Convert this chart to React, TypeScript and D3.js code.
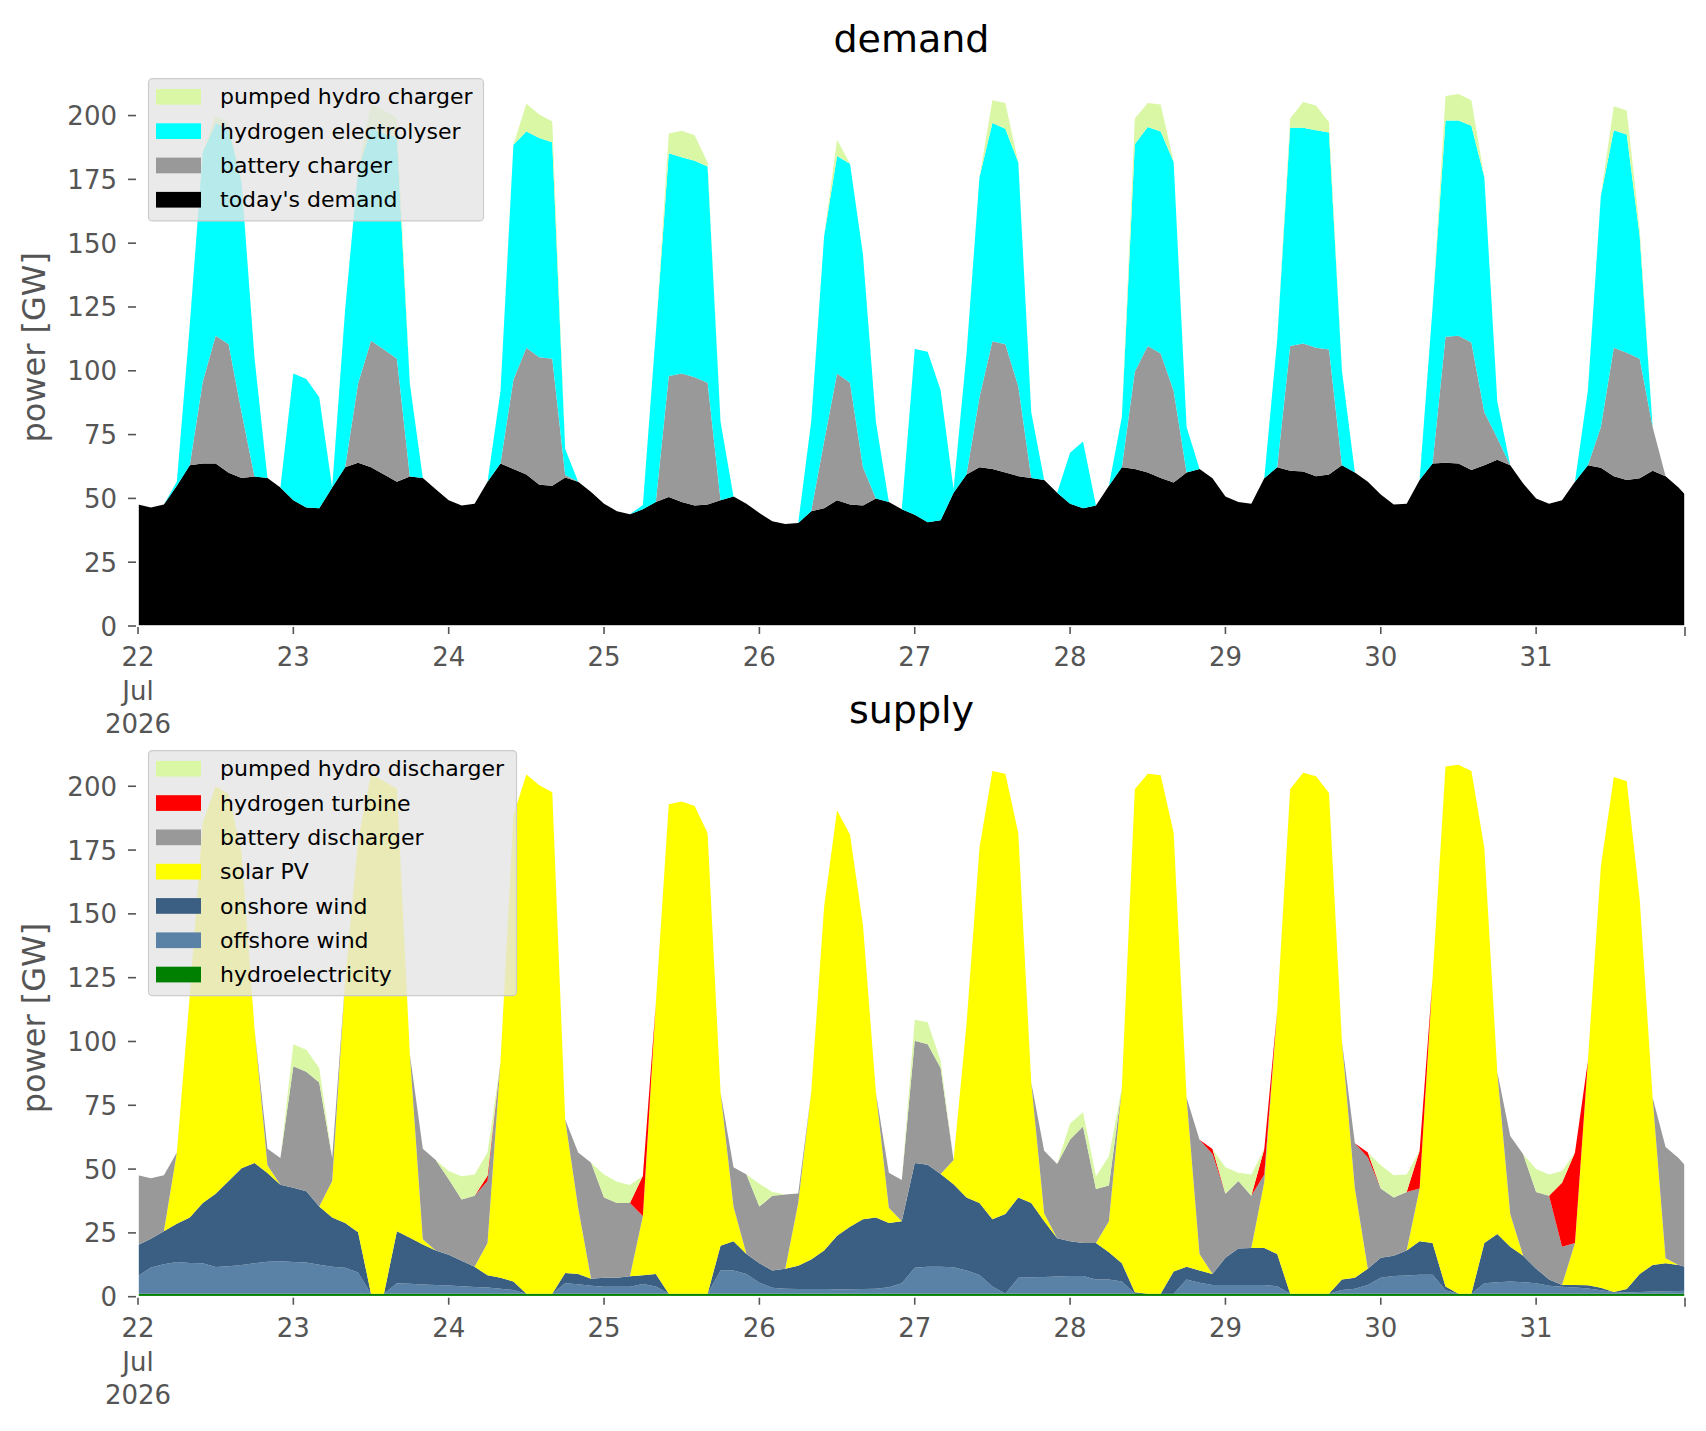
import { area, range, scaleLinear, scaleTime, stack } from "d3";

// samples every two hours from 22 Jul 2026 00:00, plus the final hour
const hours = [...range(0, 240, 2), 239];
const days = [22, 23, 24, 25, 26, 27, 28, 29, 30, 31];
const yTicks = [0, 25, 50, 75, 100, 125, 150, 175, 200];

// ---- demand (GW) ----
const todaysDemand = [
  47.6, 46.4, 47.6, 55, 63, 63.7, 63.7, 60, 58, 58.6, 58, 54.3,
  49.3, 46.4, 46.1, 54.3, 62.2, 64, 62.2, 59.4, 56.5, 58.6, 58, 53.6,
  49.3, 47.2, 47.9, 56.5, 63.7, 61.5, 59.4, 55.3, 55, 58.2, 56.5, 52.5,
  47.9, 45, 43.8, 45.7, 48.6, 50.5, 48.6, 47.2, 47.6, 49.3, 50.7, 47.9,
  44.3, 41, 40, 40.4, 45, 46.1, 49.3, 47.6, 47.2, 50, 48.6, 45.7,
  43.6, 40.7, 41.4, 52.2, 59.4, 62.2, 61.5, 60.1, 58.7, 58, 57.2, 52.2,
  47.9, 46.1, 47.2, 55, 62.2, 61.5, 60.1, 58, 56.2, 60.1, 61.5, 57.9,
  50.7, 48.6, 47.9, 57.9, 62.2, 60.8, 60.5, 58.7, 59.4, 63, 60.1, 56.5,
  51.5, 47.6, 47.9, 57.2, 63.7, 64, 63.7, 61.1, 63, 65.1, 63, 55.8,
  50, 47.9, 49.3, 56.5, 63, 62, 58.7, 57.2, 57.9, 60.8, 58.7, 54.3,
  51.5,
];
const batteryCharger = [
  0, 0, 0, 0, 0, 32, 50, 50.4, 25.8, 0, 0, 0,
  0, 0, 0, 0, 0, 31, 49.6, 48.9, 48.2, 0, 0, 0,
  0, 0, 0, 0, 0, 35, 49.6, 50, 49.7, 1, 0, 0,
  0, 0, 0, 0, 0, 47.5, 50.3, 50.3, 47.7, 0, 0, 0,
  0, 0, 0, 0, 0, 26.2, 49.6, 47.7, 15, 0, 0, 0,
  0, 0, 0, 0, 0, 27.4, 50.1, 50.3, 35.2, 0, 0, 0,
  0, 0, 0, 0, 0, 38.1, 49.6, 48.8, 36, 0, 0, 0,
  0, 0, 0, 0, 0, 48.9, 50.2, 50.3, 48.9, 0, 0, 0,
  0, 0, 0, 0, 0, 49.3, 50, 50, 20.8, 8.6, 0, 0,
  0, 0, 0, 0, 0, 16, 50.3, 49.9, 46.8, 17.2, 0, 0,
  0,
];
const hydrogenElectrolyser = [
  0, 0, 0, 1.5, 55, 90, 83.3, 84.6, 90.2, 46.4, 0, 0,
  49.6, 50.4, 43.5, 0, 61.8, 83.7, 83.2, 84.7, 86.9, 36.4, 0, 0,
  0, 0, 0, 0, 28.3, 92.1, 84.8, 85.9, 84.8, 10.2, 0, 0,
  0, 0, 0, 1.7, 66.4, 87.2, 84.8, 84.8, 84.7, 30.7, 0, 0,
  0, 0, 0, 0, 35, 80.5, 85.3, 85.8, 83.4, 30, 0, 0,
  64.9, 66.8, 51, 1.4, 47.4, 86.2, 85.5, 84.4, 87.7, 25.8, 0, 0,
  20, 26.2, 0, 0, 19.8, 89.2, 85.8, 87, 89.6, 17.9, 0, 0,
  0, 0, 0, 0, 50, 85.5, 84.5, 85.2, 85.1, 37, 0, 0,
  0, 0, 0, 0, 61, 84.8, 84.4, 84.9, 92, 14.3, 0, 0,
  0, 0, 0, 0, 29.4, 90.6, 85.2, 85.5, 48.1, 0, 0, 0,
  0,
];
const pumpedHydroCharger = [
  0, 0, 0, 0, 0, 0, 3, 2, 0, 0, 0, 0,
  0, 0, 0, 0, 0, 0, 9.6, 9, 7.4, 0, 0, 0,
  0, 0, 0, 0, 0, 0, 10.8, 9.2, 8.2, 0, 0, 0,
  0, 0, 0, 0, 0, 7.8, 10.3, 10, 1.6, 0, 0, 0,
  0, 0, 0, 0, 0, 0, 6.3, 0, 0, 0, 0, 0,
  0, 0, 0, 0, 0, 0, 8.9, 10.1, 0, 0, 0, 0,
  0, 0, 0, 0, 0, 10, 9.4, 10.5, 0, 0, 0, 0,
  0, 0, 0, 0, 0, 3.6, 10.1, 9.7, 4, 0, 0, 0,
  0, 0, 0, 0, 0, 9.6, 10.3, 10, 0, 0, 0, 0,
  0, 0, 0, 0, 0, 0, 9.4, 9.4, 2.9, 0, 0, 0,
  0,
];

// ---- supply (GW) ----
const hydroelectricity = [
  1.2, 1.2, 1.2, 1.2, 1.2, 1.2, 1.2, 1.2, 1.2, 1.2, 1.2, 1.2,
  1.2, 1.2, 1.2, 1.2, 1.2, 1.2, 1.2, 1.2, 1.2, 1.2, 1.2, 1.2,
  1.2, 1.2, 1.2, 1.2, 1.2, 1.2, 1.2, 1.2, 1.2, 1.2, 1.2, 1.2,
  1.2, 1.2, 1.2, 1.2, 1.2, 1.2, 1.2, 1.2, 1.2, 1.2, 1.2, 1.2,
  1.2, 1.2, 1.2, 1.2, 1.2, 1.2, 1.2, 1.2, 1.2, 1.2, 1.2, 1.2,
  1.2, 1.2, 1.2, 1.2, 1.2, 1.2, 1.2, 1.2, 1.2, 1.2, 1.2, 1.2,
  1.2, 1.2, 1.2, 1.2, 1.2, 1.2, 1.2, 1.2, 1.2, 1.2, 1.2, 1.2,
  1.2, 1.2, 1.2, 1.2, 1.2, 1.2, 1.2, 1.2, 1.2, 1.2, 1.2, 1.2,
  1.2, 1.2, 1.2, 1.2, 1.2, 1.2, 1.2, 1.2, 1.2, 1.2, 1.2, 1.2,
  1.2, 1.2, 1.2, 1.2, 1.2, 1.2, 1.2, 1.2, 1.2, 1.2, 1.2, 1.2,
  1.2,
];
const offshoreWind = [
  6.9, 10.2, 11.5, 12.4, 12, 11.9, 10.4, 10.7, 11.2, 11.9, 12.5, 12.7,
  12.4, 12.2, 11.3, 10.5, 10.1, 8.3, 0, 0, 4.1, 3.9, 3.6, 3.4,
  3.2, 2.9, 2.6, 2.4, 1.9, 1.4, 0, 0, 0, 4.1, 3.7, 3.1,
  2.7, 2.7, 2.7, 3.8, 2.8, 0, 0, 0, 0, 9.1, 9.1, 7.7,
  4.3, 2.3, 1.9, 1.8, 1.8, 1.8, 1.7, 1.7, 1.8, 1.9, 2.5, 4.1,
  10.1, 10.5, 10.5, 10.3, 9.1, 7.3, 2.8, 0, 6.2, 6.4, 6.5, 6.7,
  6.9, 6.9, 5.5, 5.5, 4.8, 0, 0, 0, 0, 5.5, 4.3, 3.4,
  3.4, 3.4, 3.4, 3.4, 2.9, 0, 0, 0, 0, 1.4, 1.9, 3.4,
  6.2, 6.9, 7.1, 7.4, 7.4, 1.3, 0, 0, 4.1, 4.5, 4.8, 4.5,
  4.1, 3.1, 2.7, 2.4, 2, 1.3, 0.6, 0.4, 0.6, 0.8, 0.9, 1,
  1.1,
];
const onshoreWind = [
  12.2, 11.3, 12.9, 15, 17.8, 23.6, 28.7, 33.4, 37.9, 39.3, 34.8, 30,
  29.1, 27.9, 22.8, 19.3, 17.6, 15.8, 0, 0, 20.3, 18, 15.7, 13.5,
  12, 10, 7.9, 4.8, 4.3, 3.4, 0, 0, 0, 4, 4, 2.7,
  3.5, 3.5, 4.1, 3.4, 4.9, 0, 0, 0, 0, 9.7, 11.4, 7.8,
  7.6, 6.8, 7.9, 9.1, 11.6, 15.1, 21, 24.5, 27.3, 27.9, 25.2, 24.3,
  41.1, 40, 36.4, 32.6, 28.6, 28.2, 26.3, 31.2, 31.5, 29.1, 21.9, 15,
  13.6, 12.9, 14.3, 10.7, 7.1, 0.5, 0, 0, 8.7, 5, 4.8, 4.3,
  10.7, 14.3, 14.5, 14.5, 12.6, 0, 0, 0, 0, 4.1, 4.3, 6.4,
  7.9, 7.9, 9.8, 13.1, 12.4, 1.5, 0, 0, 15.7, 18.9, 13.6, 10.3,
  5.7, 2.4, 0.7, 1, 1.3, 1, 0, 1.4, 7.1, 10.4, 11, 10.2,
  9.4,
];
const solarPV = [
  0, 0, 0, 27.9, 87, 149, 159.7, 151.7, 123.7, 52.6, 3, 0,
  0, 0, 0, 14.3, 95.1, 153.4, 203.4, 200.8, 173.4, 71.9, 2, 0,
  0, 0, 0, 12.6, 84.6, 182.6, 203.4, 199.2, 196.5, 60.1, 26, 0,
  0, 0, 0, 23.2, 106.1, 191.8, 192.8, 191.1, 180.4, 60, 13.6, 0,
  0, 0, 0, 24.6, 65.4, 134.7, 166.6, 153.7, 115.3, 49, 6, 0,
  0, 0, 0, 9.5, 67.9, 139.1, 175.7, 172.5, 142.7, 47.1, 3, 0,
  0, 0, 0, 12.2, 68.9, 197.1, 203.7, 203.1, 171.9, 66.3, 6.4, 0,
  0, 0, 0, 25.8, 95.5, 197.6, 204.1, 202.7, 196.2, 93.3, 35, 0,
  0, 0, 0, 20.7, 103.7, 203.7, 207.2, 204.8, 154.8, 63.4, 12.8, 0,
  0, 0, 0, 16.4, 87.9, 165.1, 201.8, 199, 146.8, 65.6, 2, 0,
  0,
];
const batteryDischarger = [
  27.3, 23.7, 22, 0, 0, 0, 0, 0, 0, 0, 6.5, 10.4,
  47.6, 46.8, 48.6, 9, 0, 0, 0, 0, 0, 0, 35.5, 35.5,
  29.6, 24, 27.9, 24.3, 0, 0, 0, 0, 0, 0, 21.6, 45.5,
  31.5, 29.3, 28.7, 0, 0, 0, 0, 0, 0, 0, 15.4, 31.2,
  22.2, 29.3, 29, 3.7, 0, 0, 0, 0, 0, 0, 13.7, 16.1,
  47.9, 47.2, 41.5, 0, 0, 0, 0, 0, 0, 0, 24.6, 29.1,
  39.9, 45.7, 21.2, 14, 0, 0, 0, 0, 0, 0, 44.8, 47,
  25, 26.4, 20.5, 3, 0, 0, 0, 0, 0, 0, 17.7, 43.5,
  27.1, 22.9, 22.9, 0, 0, 0, 0, 0, 0, 0, 30.6, 39.8,
  30, 32.9, 15, 0, 0, 0, 0, 0, 0, 0, 43.6, 41.9,
  39.8,
];
const hydrogenTurbine = [
  0, 0, 0, 0, 0, 0, 0, 0, 0, 0, 0, 0,
  0, 0, 0, 0, 0, 0, 0, 0, 0, 0, 0, 0,
  0, 0, 0, 2.1, 0, 0, 0, 0, 0, 0, 0, 0,
  0, 0, 0, 15.8, 0, 0, 0, 0, 0, 0, 0, 0,
  0, 0, 0, 0, 0, 0, 0, 0, 0, 0, 0, 0,
  0, 0, 0, 0, 0, 0, 0, 0, 0, 0, 0, 0,
  0, 0, 0, 0, 0, 0, 0, 0, 0, 0, 0, 2,
  0, 0, 0, 10, 0, 0, 0, 0, 0, 0, 0, 2,
  0, 0, 0, 14.8, 0, 0, 0, 0, 0, 0, 0, 0,
  0, 0, 25, 35.5, 0, 0, 0, 0, 0, 0, 0, 0,
  0,
];
const pumpedHydroDischarger = [
  0, 0, 0, 0, 0, 0, 0, 0, 0, 0, 0, 0,
  8.6, 8.7, 5.7, 0, 0, 0, 0, 0, 0, 0, 0, 0,
  3.3, 9.1, 8.3, 9.1, 0, 0, 0, 0, 0, 0, 0, 0,
  9, 8.3, 7.1, 0, 0, 0, 0, 0, 0, 0, 0, 0,
  9, 1.4, 0, 0, 0, 0, 0, 0, 0, 0, 0, 0,
  8.2, 8.6, 2.8, 0, 0, 0, 0, 0, 0, 0, 0, 0,
  6.3, 5.6, 5, 11.4, 0, 0, 0, 0, 0, 0, 0, 0,
  10.4, 3.3, 8.3, 0, 0, 0, 0, 0, 0, 0, 0, 0,
  9.1, 8.7, 6.9, 0, 0, 0, 0, 0, 0, 0, 0, 0,
  9, 8.3, 4.7, 0, 0, 0, 0, 0, 0, 0, 0, 0,
  0,
];

const demandLayers = [
  { key: "today", label: "today's demand", color: "#000000", values: todaysDemand },
  { key: "battery", label: "battery charger", color: "#999999", values: batteryCharger },
  { key: "electrolyser", label: "hydrogen electrolyser", color: "#00ffff", values: hydrogenElectrolyser },
  { key: "pumped", label: "pumped hydro charger", color: "#daf7a6", values: pumpedHydroCharger },
];

const supplyLayers = [
  { key: "hydro", label: "hydroelectricity", color: "#008000", values: hydroelectricity },
  { key: "offshore", label: "offshore wind", color: "#5a82a6", values: offshoreWind },
  { key: "onshore", label: "onshore wind", color: "#3a5f82", values: onshoreWind },
  { key: "solar", label: "solar PV", color: "#ffff00", values: solarPV },
  { key: "battery", label: "battery discharger", color: "#999999", values: batteryDischarger },
  { key: "turbine", label: "hydrogen turbine", color: "#ff0000", values: hydrogenTurbine },
  { key: "pumped", label: "pumped hydro discharger", color: "#daf7a6", values: pumpedHydroDischarger },
];

const FONT = "DejaVu Sans";
const X0 = 138;
const X1 = 1685;
const start = new Date(2026, 6, 22, 0);
const end = new Date(2026, 6, 31, 23);

function Panel({ title, layers, top, bottom, legendTop, legendWidth }: any) {
  const x = scaleTime().domain([start, end]).range([X0, X1]);
  const y = scaleLinear().domain([0, 218.4]).range([bottom, top]);

  const rows = hours.map((h, i) => {
    const row: any = { t: new Date(2026, 6, 22, h) };
    layers.forEach((l: any) => (row[l.key] = l.values[i]));
    return row;
  });
  const series = stack<any>().keys(layers.map((l: any) => l.key))(rows);
  const shape = area<any>()
    .x((d) => x(d.data.t))
    .y0((d) => y(d[0]))
    .y1((d) => y(d[1]));

  const legendItems = [...layers].reverse();
  const rowH = 34.3;
  const boxH = legendItems.length * rowH + 5;

  return (
    <g fontFamily={FONT}>
      {series.map((s: any, i: number) => (
        <path key={s.key} d={shape(s) || ""} fill={layers[i].color} />
      ))}
      <rect x={X0} y={top} width={X1 - X0} height={bottom - top} fill="none" stroke="#ffffff" strokeWidth={1.6} />

      {/* y axis */}
      {yTicks.map((t) => (
        <g key={t}>
          <line x1={128} x2={136} y1={y(t)} y2={y(t)} stroke="#555555" strokeWidth={1.6} />
          <text x={117} y={y(t) + 9.5} fontSize={26} fill="#555555" textAnchor="end">
            {t}
          </text>
        </g>
      ))}
      <text
        transform={`translate(44.5, ${(top + bottom) / 2}) rotate(-90)`}
        fontSize={32}
        fill="#555555"
        textAnchor="middle"
      >
        power [GW]
      </text>

      {/* x axis */}
      {days.map((d) => {
        const xp = x(new Date(2026, 6, d));
        return (
          <g key={d}>
            <line x1={xp} x2={xp} y1={bottom + 1} y2={bottom + 8} stroke="#555555" strokeWidth={1.6} />
            <text x={xp} y={bottom + 40} fontSize={26} fill="#555555" textAnchor="middle">
              {d}
            </text>
            {d === 22 && (
              <>
                <text x={xp} y={bottom + 74} fontSize={26} fill="#555555" textAnchor="middle">
                  Jul
                </text>
                <text x={xp} y={bottom + 107} fontSize={26} fill="#555555" textAnchor="middle">
                  2026
                </text>
              </>
            )}
          </g>
        );
      })}
      <line x1={X1} x2={X1} y1={bottom + 1} y2={bottom + 10} stroke="#555555" strokeWidth={1.6} />

      {/* title */}
      <text x={(X0 + X1) / 2} y={top - 16.6} fontSize={38} fill="#000000" textAnchor="middle">
        {title}
      </text>

      {/* legend */}
      <rect
        x={148.5}
        y={legendTop}
        width={legendWidth}
        height={boxH}
        rx={4}
        fill="#e5e5e5"
        fillOpacity={0.8}
        stroke="#cccccc"
        strokeWidth={1.2}
      />
      {legendItems.map((l: any, i: number) => {
        const cy = legendTop + 18.2 + i * rowH;
        return (
          <g key={l.key}>
            <rect x={156} y={cy - 7.9} width={45} height={15.7} fill={l.color} />
            <text x={220} y={cy + 7.5} fontSize={22} fill="#000000">
              {l.label}
            </text>
          </g>
        );
      })}
    </g>
  );
}

export default function App() {
  return (
    <div style={{ position: "absolute", left: 0, top: 0, background: "#ffffff" }}>
      <svg width={1706} height={1431} style={{ display: "block" }}>
        <rect width={1706} height={1431} fill="#ffffff" />
        <Panel title="demand" layers={demandLayers} top={68.6} bottom={626} legendTop={78.7} legendWidth={335} />
        <Panel title="supply" layers={supplyLayers} top={739.3} bottom={1296.7} legendTop={750.6} legendWidth={368} />
      </svg>
    </div>
  );
}
